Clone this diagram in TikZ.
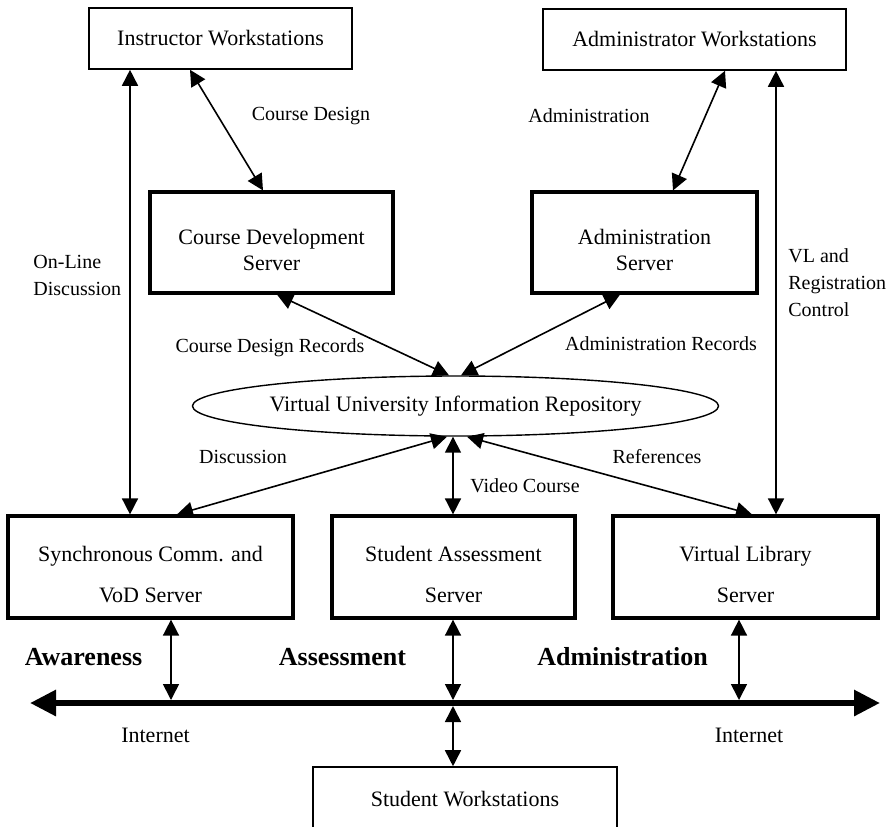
\documentclass[tikz,border=0pt]{standalone}
\usepackage{fontspec}
\setmainfont{Liberation Serif}
\usetikzlibrary{arrows.meta,shapes.geometric}

\newcommand{\topgap}{\rule{0pt}{15pt}}

\begin{document}
\begin{tikzpicture}[x=0.5pt, y=-0.5pt, font=\fontsize{11}{13.2}\selectfont,
  >={Triangle[length=8pt,width=8pt]},
  link/.style={<->, line width=0.8pt},
  wsbox/.style={draw, line width=0.8pt, inner sep=0pt},
  srvbox/.style={draw, line width=1.6pt, inner sep=0pt, align=center},
  lbl/.style={inner sep=0pt, anchor=base, font=\fontsize{10}{13.5}\selectfont},
  side/.style={inner sep=0pt, anchor=west, align=left, font=\fontsize{10}{13.5}\selectfont},
  area/.style={inner sep=0pt, anchor=base, font=\fontsize{13}{15.6}\selectfont\bfseries}]
\useasboundingbox (0,0) rectangle (889,826);

\node[wsbox, minimum width=131.5pt, minimum height=30.5pt] (instr) at (220.5,38.5) {Instructor Workstations}; % top left
\node[wsbox, minimum width=151.5pt, minimum height=30.5pt] (adminws) at (694.5,39.5) {Administrator Workstations}; % top right

\node[srvbox, minimum width=121.5pt, minimum height=50.5pt] (cds) at (271.5,242.5) {\topgap Course Development\\Server};
\node[srvbox, minimum width=112.5pt, minimum height=50.5pt] (admsrv) at (644.5,242.5) {\topgap Administration\\Server};

\node[draw, ellipse, line width=0.7pt, minimum width=252.5pt, minimum height=30pt, inner sep=0pt] (repo) at (455.5,406) {Virtual University Information Repository}; % repository

\node[srvbox, minimum width=142.5pt, minimum height=51pt] (sync) at (150.5,567) {\topgap Synchronous Comm. and\\[7pt]VoD Server};
\node[srvbox, minimum width=121.5pt, minimum height=51pt] (assess) at (453.5,567) {\topgap Student Assessment\\[7pt]Server};
\node[srvbox, minimum width=132.5pt, minimum height=51pt] (vlib) at (745.5,567) {\topgap Virtual Library\\[7pt]Server};

\node[wsbox, minimum width=152pt, minimum height=32pt] (student) at (465,799) {Student Workstations}; % bottom, cut off

% the internet line
\coordinate (netL) at (30,703);
\coordinate (netR) at (880,703);
\draw[line width=3pt, {Triangle[length=13pt,width=12.5pt]}-{Triangle[length=13pt,width=12.5pt]}] (netL) -- (netR);
\coordinate (tapA) at (171,700);
\coordinate (tapB) at (453,700);
\coordinate (tapC) at (739,700);
\coordinate (tapD) at (453,706);

\draw[link] (instr.south -| 130,0) -- (sync.north -| 130,0); % on-line discussion
\draw[link] (instr.south -| 190,0) -- (cds.north -| 263,0); % course design
\draw[link] (adminws.south -| 725,0) -- (admsrv.north -| 673,0); % administration
\draw[link] (adminws.south -| 776,0) -- (vlib.north -| 776,0); % VL and registration
\draw[link] (cds.south -| 277,0) -- (repo.north -| 449,0);
\draw[link] (admsrv.south -| 620,0) -- (repo.north -| 461,0);
\draw[link] (repo.south -| 447,0) -- (sync.north -| 177,0); % discussion
\draw[link] (repo.south -| 453,0) -- (assess.north -| 453,0); % video course
\draw[link] (repo.south -| 467,0) -- (vlib.north -| 752,0); % references
\draw[link] (sync.south -| 171,0) -- (tapA);
\draw[link] (assess.south -| 453,0) -- (tapB);
\draw[link] (vlib.south -| 739,0) -- (tapC);
\draw[link] (tapD) -- (student.north -| 453,0);

\node[lbl] (lcd) at (311,120) {Course Design};
\node[lbl] (ladm) at (589,122) {Administration};
\node[side] (lold) at (33,275) {On-Line\\Discussion};
\node[side] (lvl) at (788,283) {VL and\\Registration\\Control};
\node[lbl] (lcdr) at (270,352) {Course Design Records};
\node[lbl] (ladr) at (661,350) {Administration Records};
\node[lbl] (ldis) at (243,463) {Discussion};
\node[lbl] (lref) at (657,463) {References};
\node[lbl] (lvid) at (525,492) {Video Course};

\node[area] (aware) at (83.5,665) {Awareness};
\node[area] (asmt) at (342.5,665) {Assessment};
\node[area] (admn) at (622.5,665) {Administration};
\node[lbl, font=\fontsize{11}{13.2}\selectfont] (inet1) at (155.5,742) {Internet};
\node[lbl, font=\fontsize{11}{13.2}\selectfont] (inet2) at (749,742) {Internet};

\end{tikzpicture}
\end{document}
